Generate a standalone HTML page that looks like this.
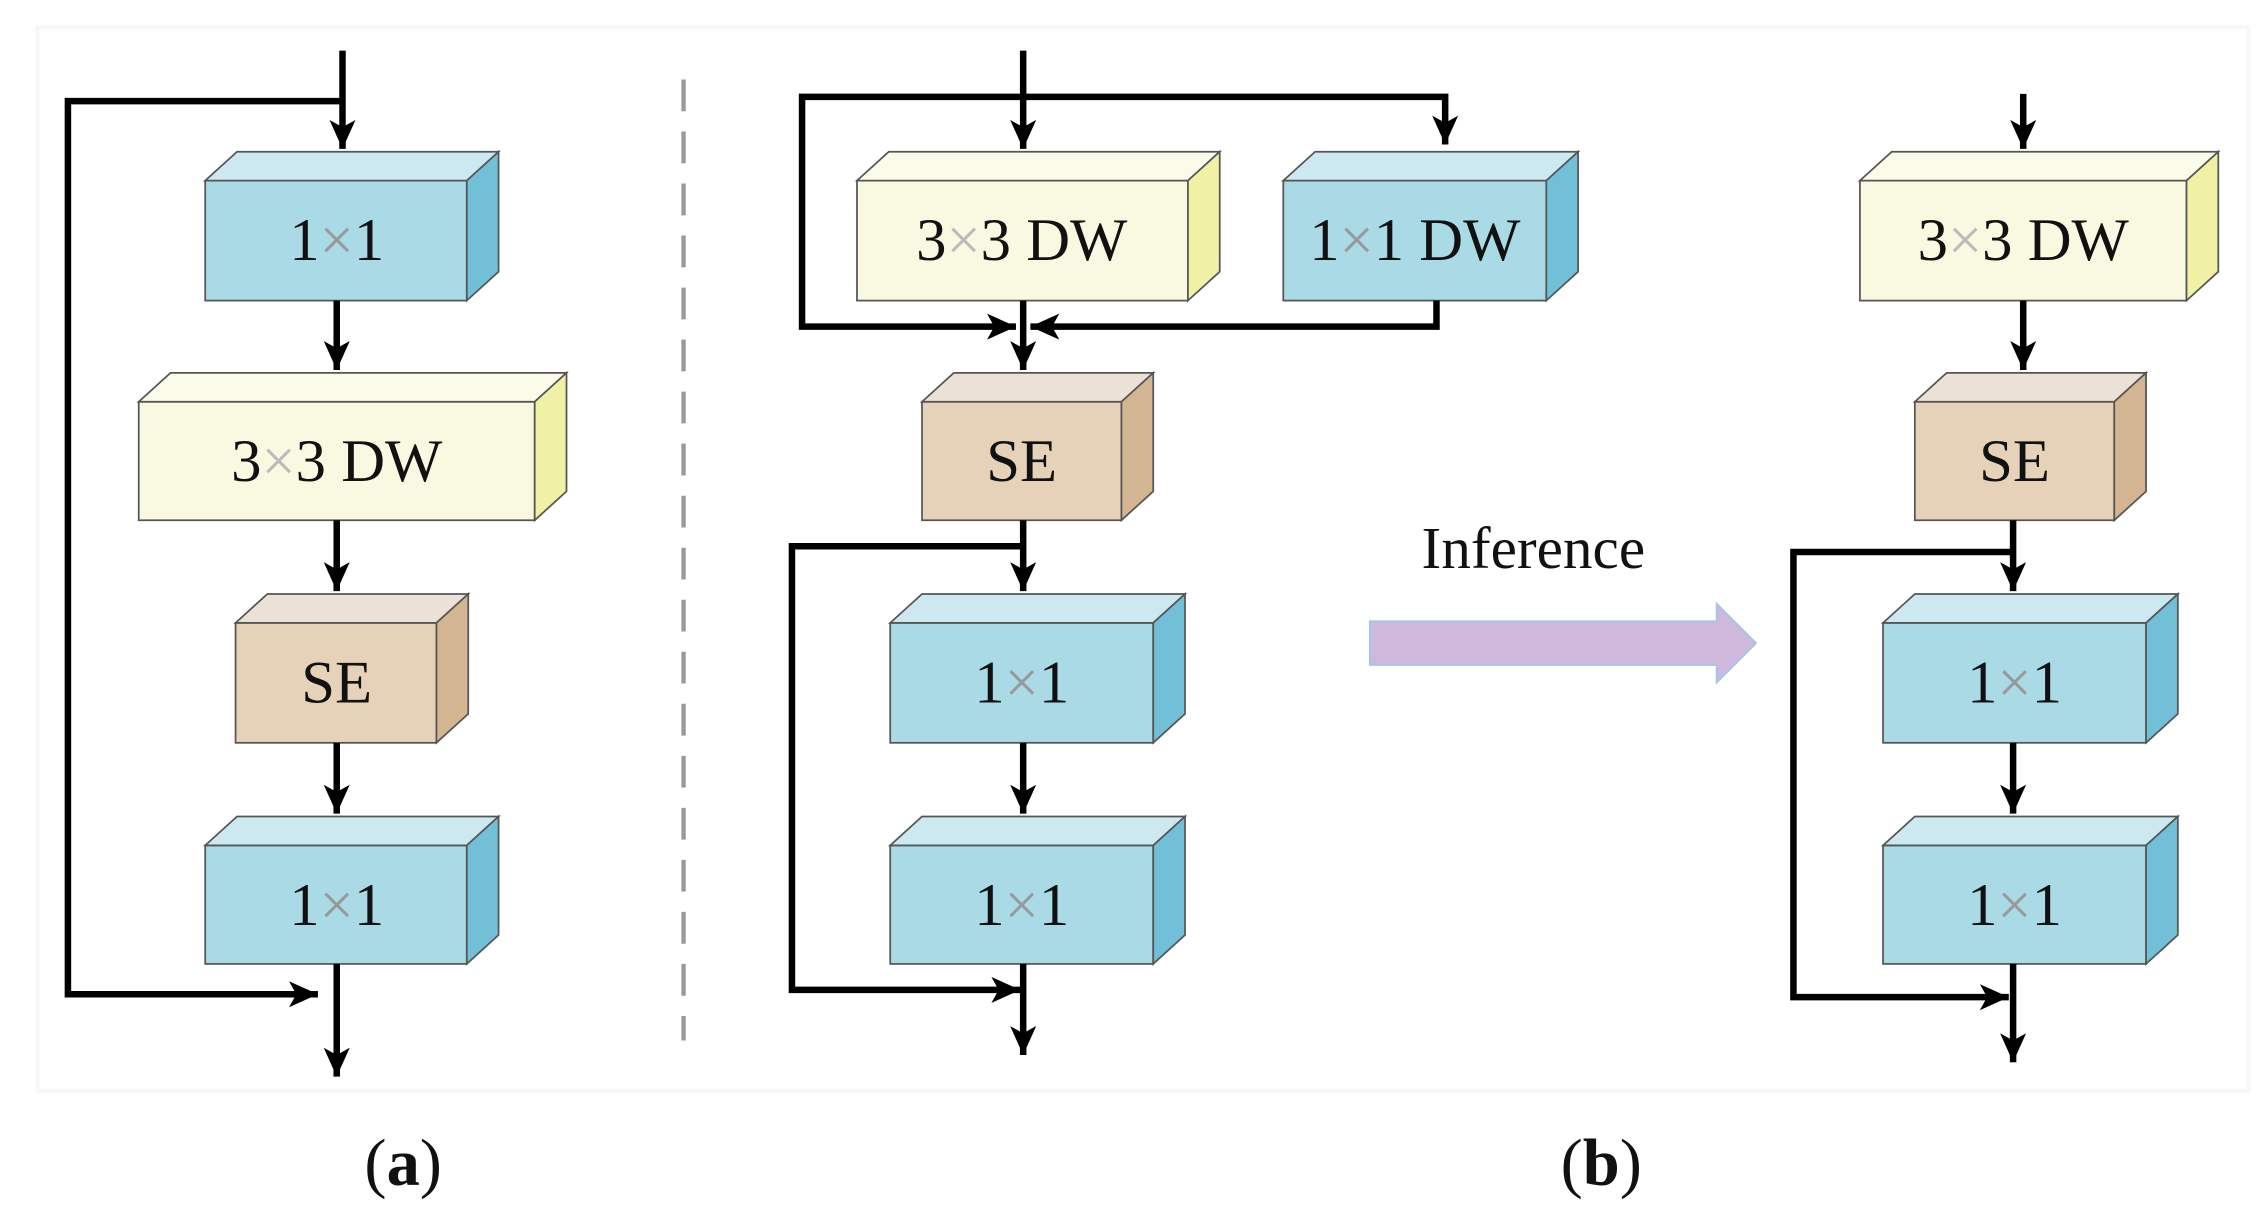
<!DOCTYPE html>
<html><head><meta charset="utf-8"><style>
html,body{margin:0;padding:0;background:#fff;}
svg{display:block;}
text{font-family:"Liberation Serif",serif;}
</style></head><body>
<svg width="2266" height="1232" viewBox="0 0 1568 852.5" preserveAspectRatio="none" xmlns="http://www.w3.org/2000/svg">
<defs>
<marker id="ah" markerUnits="userSpaceOnUse" markerWidth="24" markerHeight="24" refX="20" refY="9" orient="auto">
<polygon points="0,0 20,9 0,18 5,9" fill="#000"/>
</marker>
</defs>
<rect x="26" y="19" width="1530" height="736" fill="none" stroke="#f6f9fc" stroke-width="3"/>
<line x1="473" y1="55" x2="473" y2="720" stroke="#999" stroke-width="3" stroke-dasharray="22,14"/>

<g stroke="#555" stroke-width="1.2">
<rect x="142" y="125" width="181" height="83" fill="#a9dae6"/><polygon points="142,125 164,105 345,105 323,125" fill="#cce9f1"/><polygon points="323,125 345,105 345,188 323,208" fill="#72c0d8"/>
<rect x="96" y="278" width="274" height="82" fill="#f8f9e0"/><polygon points="96,278 118,258 392,258 370,278" fill="#fafbe8"/><polygon points="370,278 392,258 392,340 370,360" fill="#f1f1a6"/>
<rect x="163" y="431" width="139" height="83" fill="#e6d2b8"/><polygon points="163,431 185,411 324,411 302,431" fill="#ebe1d6"/><polygon points="302,431 324,411 324,494 302,514" fill="#d3b592"/>
<rect x="142" y="585" width="181" height="82" fill="#a9dae6"/><polygon points="142,585 164,565 345,565 323,585" fill="#cce9f1"/><polygon points="323,585 345,565 345,647 323,667" fill="#72c0d8"/>
<rect x="593" y="125" width="229" height="83" fill="#f8f9e0"/><polygon points="593,125 615,105 844,105 822,125" fill="#fafbe8"/><polygon points="822,125 844,105 844,188 822,208" fill="#f1f1a6"/>
<rect x="888" y="125" width="182" height="83" fill="#a9dae6"/><polygon points="888,125 910,105 1092,105 1070,125" fill="#cce9f1"/><polygon points="1070,125 1092,105 1092,188 1070,208" fill="#72c0d8"/>
<rect x="638" y="278" width="138" height="82" fill="#e6d2b8"/><polygon points="638,278 660,258 798,258 776,278" fill="#ebe1d6"/><polygon points="776,278 798,258 798,340 776,360" fill="#d3b592"/>
<rect x="616" y="431" width="182" height="83" fill="#a9dae6"/><polygon points="616,431 638,411 820,411 798,431" fill="#cce9f1"/><polygon points="798,431 820,411 820,494 798,514" fill="#72c0d8"/>
<rect x="616" y="585" width="182" height="82" fill="#a9dae6"/><polygon points="616,585 638,565 820,565 798,585" fill="#cce9f1"/><polygon points="798,585 820,565 820,647 798,667" fill="#72c0d8"/>
<rect x="1287" y="125" width="226" height="83" fill="#f8f9e0"/><polygon points="1287,125 1309,105 1535,105 1513,125" fill="#fafbe8"/><polygon points="1513,125 1535,105 1535,188 1513,208" fill="#f1f1a6"/>
<rect x="1325" y="278" width="138" height="82" fill="#e6d2b8"/><polygon points="1325,278 1347,258 1485,258 1463,278" fill="#ebe1d6"/><polygon points="1463,278 1485,258 1485,340 1463,360" fill="#d3b592"/>
<rect x="1303" y="431" width="182" height="83" fill="#a9dae6"/><polygon points="1303,431 1325,411 1507,411 1485,431" fill="#cce9f1"/><polygon points="1485,431 1507,411 1507,494 1485,514" fill="#72c0d8"/>
<rect x="1303" y="585" width="182" height="82" fill="#a9dae6"/><polygon points="1303,585 1325,565 1507,565 1485,585" fill="#cce9f1"/><polygon points="1485,585 1507,565 1507,647 1485,667" fill="#72c0d8"/>
</g>

<g stroke="#000" stroke-width="4.5" fill="none" marker-end="url(#ah)">
<path d="M237 35 V103"/>
<path d="M237 70 H47 V688 H220"/>
<path d="M233 208 V256"/>
<path d="M233 360 V409"/>
<path d="M233 514 V563"/>
<path d="M233 667 V745"/>
<path d="M708 35 V103"/>
<path d="M708 67 H1000 V100"/>
<path d="M708 67 H555 V226 H703"/>
<path d="M994 208 V226 H713"/>
<path d="M708 208 V256"/>
<path d="M708 360 V409"/>
<path d="M708 378 H548 V685 H706"/>
<path d="M708 514 V563"/>
<path d="M708 667 V730"/>
<path d="M1400 65 V103"/>
<path d="M1400 208 V256"/>
<path d="M1393 360 V409"/>
<path d="M1393 382 H1241 V690 H1390"/>
<path d="M1393 514 V563"/>
<path d="M1393 667 V735"/>
</g>

<polygon points="948,430 1188,430 1188,418 1215,445 1188,472 1188,460 948,460" fill="#d0b8dc" stroke="#a8c4e4" stroke-width="1.5"/>

<g font-size="42" fill="#111" text-anchor="middle">
<text x="233" y="180">1<tspan fill="#999">×</tspan>1</text>
<text x="233" y="333">3<tspan fill="#bbb">×</tspan>3 DW</text>
<text x="233" y="486">SE</text>
<text x="233" y="640">1<tspan fill="#999">×</tspan>1</text>
<text x="707" y="180">3<tspan fill="#bbb">×</tspan>3 DW</text>
<text x="979" y="180">1<tspan fill="#999">×</tspan>1 DW</text>
<text x="707" y="333">SE</text>
<text x="707" y="486">1<tspan fill="#999">×</tspan>1</text>
<text x="707" y="640">1<tspan fill="#999">×</tspan>1</text>
<text x="1400" y="180">3<tspan fill="#bbb">×</tspan>3 DW</text>
<text x="1394" y="333">SE</text>
<text x="1394" y="486">1<tspan fill="#999">×</tspan>1</text>
<text x="1394" y="640">1<tspan fill="#999">×</tspan>1</text>
<text x="1061" y="393" font-size="41">Inference</text>
<text x="279" y="820" font-size="46">(<tspan font-weight="bold">a</tspan>)</text>
<text x="1108" y="820" font-size="46">(<tspan font-weight="bold">b</tspan>)</text>
</g>
</svg>
</body></html>
